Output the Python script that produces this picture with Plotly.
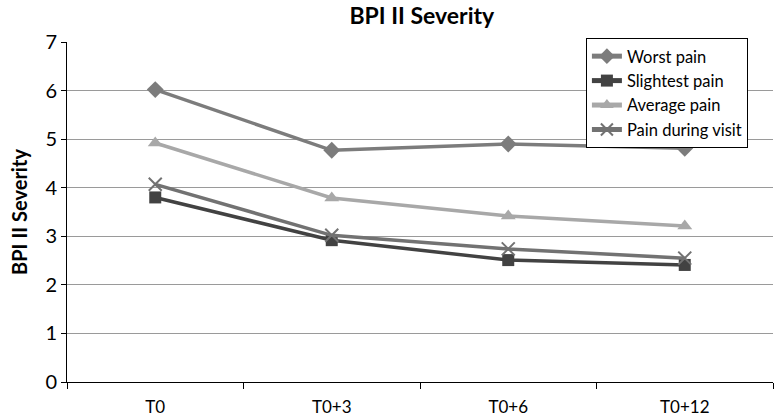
import plotly.graph_objects as go

categories = ["T0", "T0+3", "T0+6", "T0+12"]
worst_pain = [6.02, 4.77, 4.90, 4.81]
slightest_pain = [3.80, 2.92, 2.51, 2.41]
average_pain = [4.92, 3.79, 3.42, 3.21]
pain_during_visit = [4.07, 3.02, 2.74, 2.55]
y_ticks = [0, 1, 2, 3, 4, 5, 6, 7]

FONT = "Lato, Open Sans, sans-serif"

fig = go.Figure()
series = [
    ("Worst pain", worst_pain, "#7c7c7c", "diamond", 13, 0),
    ("Slightest pain", slightest_pain, "#424242", "square", 12, 0),
    ("Average pain", average_pain, "#a8a8a8", "triangle-up", 13, 0),
    ("Pain during visit", pain_during_visit, "#727272", "x-thin", 13, 2),
]
for name, vals, col, sym, size, lw in series:
    fig.add_trace(go.Scatter(
        x=categories, y=vals, name=name, mode="lines+markers",
        line=dict(color=col, width=3.5),
        marker=dict(symbol=sym, size=size, color=col,
                    line=dict(color=col, width=lw)),
    ))

fig.update_layout(
    width=774, height=416,
    margin=dict(l=67, r=1, t=42, b=34),
    paper_bgcolor="white", plot_bgcolor="white",
    font=dict(family=FONT, color="black", size=17),
    title=dict(text="<b>BPI II Severity</b>", x=0.545, xanchor="center",
               y=0.962, yanchor="middle", font=dict(size=23)),
    showlegend=True,
    legend=dict(x=0.735, y=1.012, xanchor="left", yanchor="top",
                bordercolor="black", borderwidth=1, bgcolor="white",
                font=dict(size=16.5), tracegroupgap=0, itemsizing="constant",
                itemwidth=30),
    xaxis=dict(type="category", tickson="boundaries", ticks="outside",
               ticklen=6, tickcolor="black", showline=True, linecolor="black",
               linewidth=1, showgrid=False, tickfont=dict(size=17),
               ticklabelstandoff=10, automargin=False,
               range=[-0.5, 3.5]),
    yaxis=dict(range=[0, 7], tickvals=y_ticks, ticks="outside", ticklen=5,
               tickcolor="black", showline=True, linecolor="black",
               linewidth=1, showgrid=True, gridcolor="#9a9a9a",
               gridwidth=1, zeroline=False, tickfont=dict(size=20),
               title=dict(text="<b>BPI II Severity</b>", font=dict(size=20),
                          standoff=12)),
)

fig.write_html("out.html", config={"displayModeBar": False},
               post_script="document.body.style.margin='0';")
